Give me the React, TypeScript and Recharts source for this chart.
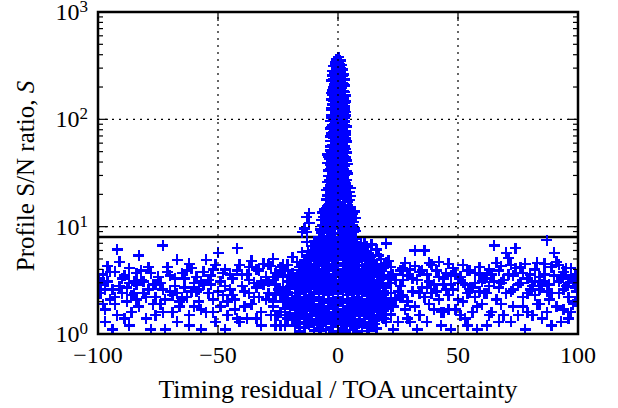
import { ScatterChart, Scatter, XAxis, YAxis, ReferenceLine, ReferenceArea } from 'recharts';

const PLOT_TOP = 12;
const PLOT_RIGHT = 578;
const SERIF = '"Liberation Serif", "Times New Roman", serif';
const BLUE = '#0000ff';

// tick values
const xTicks = [-100, -50, 0, 50, 100];
const yTicks = [1, 2, 3, 4, 5, 6, 7, 8, 9, 10, 20, 30, 40, 50, 60, 70, 80, 90, 100, 200, 300, 400, 500, 600, 700, 800, 900, 1000];
const xGrid = [-50, 0, 50];
const yGrid = [10, 100];
const threshold = 8;

// [x, y] pairs
const spike = [
  0.3, 380, -0.6, 362, 0.9, 352, -1.2, 340, 0.2, 334, 1.5, 322, -1.7, 314, 0.6, 306, -0.8, 298, 2.0, 291,
  -2.1, 283, 0.9, 277, -0.3, 268, 2.3, 262, -2.4, 255, 1.1, 249, -1.0, 242, 2.6, 236, -2.6, 230, 0.3, 224,
  1.8, 218, -1.6, 212, 2.9, 206, -0.5, 201,
  -1.9, 197, 1.6, 195, 0.2, 189, -2.5, 185, 2.4, 182, -0.8, 178, 1.1, 174, -2.2, 170, 3.0, 167, 0.0, 164,
  -1.5, 160, 2.1, 157, -2.7, 153, 0.9, 150, 3.2, 147, -1.0, 144, 1.8, 140, -2.4, 137, 0.3, 134, 2.9, 131,
  -1.7, 128, 1.2, 125, -2.8, 122, 0.5, 120, 3.3, 117, -1.2, 114, 2.2, 111, -2.6, 108, 0.1, 106, 2.8, 103,
  -1.8, 101, 1.0, 99,
  -3.0, 96, 2.6, 95, -0.6, 93, 1.7, 90, -2.3, 88, 3.4, 86, 0.4, 84, -3.1, 82, 2.0, 80, -1.1, 78,
  1.0, 76, -2.7, 74, 3.2, 72, -0.2, 70, 2.3, 68, -1.9, 67, 0.8, 65, -3.0, 63, 3.5, 62, -0.9, 60,
  1.6, 59, -2.4, 57, 2.9, 56, 0.1, 54, -1.5, 53, 2.2, 52, -3.1, 51, 0.7, 50,
  3.6, 49, -2.2, 48, -4.3, 47, 1.4, 46, -0.5, 45, 3.1, 44, -3.5, 43, 0.3, 42, 2.4, 41, -1.6, 40,
  -4.4, 39, 3.8, 38.5, 0.9, 37.5, -2.8, 36.5, 1.9, 35.5, -0.9, 34.5, -4.0, 33.5, 3.4, 32.5, 0.2, 31.7, -2.3, 31,
  2.6, 30.2, -3.9, 29.5, -0.4, 28.7, 1.3, 28, 3.7, 27.3, -1.8, 26.6, -4.5, 26, 0.6, 25.4,
  2.7, 24.8, -3.1, 24.2, -0.7, 23.6, 5.0, 23, 1.5, 22.4, -4.8, 21.9, -1.9, 21.3, 3.5, 20.8, 0.3, 20.3, -3.6, 19.8,
  5.4, 19.3, -0.9, 18.8, 2.2, 18.4, -4.9, 17.9, -2.2, 17.5, 4.1, 17.1, 0.8, 16.6, -3.4, 16.2, 2.9, 15.8, -0.4, 15.4,
  5.2, 15.1, -4.6, 14.8,
  1.7, 14.5, -2.5, 14.2, 6.8, 13.9, -6.5, 13.6, 3.9, 13.3, -0.8, 13, -4.3, 12.7, 2.4, 12.4, 7.2, 12.1, -2.0, 11.8,
  -6.9, 11.5, 4.6, 11.2, 0.2, 10.9, -3.9, 10.6, 6.1, 10.3, 1.9, 10, -5.6, 9.8, -1.2, 9.5, 3.6, 9.3, 7.4, 9.1,
  -3.2, 9, -7.0, 8.8, 0.9, 8.6, 5.3, 8.4,
  -4.5, 14.0, 4.8, 13.5, -6.0, 12.3, 5.5, 11.8, -3.0, 12.0, 2.9, 11.0, -5.0, 10.2, 4.2, 9.7, -7.5, 9.4, 6.5, 8.9,
  -1.5, 8.7, 2.2, 8.3,
];

const spikeB = [
  -0.2, 345, 0.7, 328, -1.0, 318, 1.2, 300, -0.1, 287, -1.5, 270, 1.7, 254, 0.0, 245, -1.9, 238, 1.2, 226,
  -0.9, 219, 2.2, 210, 0.7, 203,
  0.9, 192, -1.2, 187, 2.8, 179, -2.8, 175, 0.6, 171, 1.9, 163, -0.7, 155, -2.0, 148, 2.5, 143, 0.0, 139,
  -0.8, 131, -2.9, 127, 2.6, 123, 1.7, 115, -0.4, 110, 3.0, 108, -2.9, 104, 1.8, 102,
  -1.5, 97, 0.9, 91, 2.9, 89, -2.8, 85, -0.5, 81, 1.3, 79, 3.3, 77, -2.0, 75, -0.6, 73, 1.5, 71,
  -3.0, 69, 3.1, 66, -1.0, 64, 2.0, 61, 0.3, 58, -3.0, 56, 3.0, 53, -2.0, 51,
  1.2, 49.5, -3.2, 47.7, -1.2, 46.5, 2.3, 45.5, -4.0, 44.5, 1.0, 43.5, -2.2, 42.5, 3.4, 41.5, -0.5, 40.5, 1.8, 39.3,
  -3.3, 38, 2.8, 37, -1.5, 35.8, 0.2, 35, -3.0, 34, 2.5, 33, 3.9, 31.3, -1.0, 30.5, 0.9, 29.6, -2.8, 28.4,
  2.3, 27.7, -3.5, 27, 0.0, 26.2, 2.9, 25.8, -2.5, 25.2,
  -1.8, 24.5, 4.0, 24, 0.8, 23.3, -4.0, 22.8, 2.8, 22.1, -0.4, 21.6, 4.7, 21.1, -2.8, 20.6, 1.6, 20, -4.3, 19.5,
  3.2, 19, -1.7, 18.6, 0.3, 18.1, 4.8, 17.7, -3.3, 17.3, 2.0, 16.9, -1.3, 16.4, 4.1, 16, -4.3, 15.6, 1.3, 15.2,
  -2.5, 15,
  5.3, 14.6, -5.6, 14.4, 0.4, 14.1, -1.8, 13.6, 5.9, 13.2, -5.3, 12.9, 1.0, 12.6, -2.6, 12.2, 4.0, 11.9, -0.3, 11.6,
  -5.0, 11.3, 6.5, 11.0, -3.0, 10.8, 2.6, 10.5, -6.3, 10.3, 0.3, 10.1, -2.5, 9.9, 5.2, 9.6, -4.4, 9.4, 6.7, 9.6,
];

const coreA = [
  -8, 7.9, -4.5, 8.1, 0.5, 7.8, 4, 8.0, 7.5, 7.7,
  -10, 7.3, -6.5, 7.2, -2, 7.4, 2.5, 7.1, 6, 7.3, 9.5, 7.0,
  -11, 6.6, -7, 6.5, -3.5, 6.7, 1, 6.4, 5, 6.6, 8.5, 6.3, 12, 6.5,
  -12.5, 5.9, -9, 5.8, -5, 6.0, -1, 5.7, 3, 5.9, 7.5, 5.8, 11, 5.6,
  -13, 5.3, -10, 5.2, -6, 5.4, -2.5, 5.1, 2, 5.3, 6, 5.2, 10, 5.0, 13.5, 5.3,
  -11.5, 4.8, -8, 4.7, -4, 4.9, 0, 4.6, 4.5, 4.8, 8, 4.7, 12, 4.5,
  -14, 4.3, -10, 4.2, -6.5, 4.4, -2, 4.1, 2, 4.3, 6, 4.2, 10.5, 4.0, 14, 4.3,
  -12, 3.9, -8.5, 3.8, -4, 3.9, 0.5, 3.7, 4, 3.9, 8, 3.8, 12, 3.6,
  -15, 3.5, -11, 3.4, -7, 3.5, -3, 3.3, 1, 3.5, 5, 3.4, 9, 3.3, 13, 3.5, 16.5, 3.4,
  -13, 3.1, -9, 3.0, -5, 3.2, -1, 3.0, 3, 3.1, 7, 3.0, 11, 3.2, 15, 2.9,
  -16, 2.8, -11.5, 2.7, -7, 2.8, -3, 2.7, 1.5, 2.8, 5, 2.7, 9, 2.8, 13, 2.6, 17, 2.8,
  -14, 2.5, -10, 2.4, -6, 2.5, -2, 2.4, 2, 2.5, 6.5, 2.4, 10, 2.5, 14, 2.3,
  -17, 2.2, -12, 2.1, -8, 2.2, -4, 2.1, 0, 2.2, 4, 2.1, 8, 2.2, 12, 2.0, 16, 2.2,
  -15, 1.95, -10, 1.9, -6, 1.95, -2, 1.9, 2, 1.95, 6, 1.9, 10, 1.95, 14, 1.85,
  -13, 1.75, -8, 1.7, -4, 1.75, 0, 1.7, 4, 1.75, 8, 1.7, 12, 1.75, 17, 1.7,
  -16, 1.55, -11, 1.5, -6, 1.55, -2, 1.5, 3, 1.55, 7, 1.5, 11, 1.55, 15, 1.5,
  -14, 1.38, -9, 1.35, -4, 1.4, 1, 1.36, 5, 1.38, 9, 1.34, 13, 1.4,
  -12, 1.22, -7, 1.2, -2, 1.24, 3, 1.2, 8, 1.22, 12, 1.18,
  -10, 1.08, -5, 1.1, 0, 1.06, 5, 1.09, 10, 1.07,
];

const coreB = [
  -6, 7.6, -2, 7.7, 2, 7.5, 6, 7.6,
  -8.5, 6.95, -4.5, 7.0, 0, 6.9, 4, 6.95, 8, 6.8, 11, 6.9,
  -9.5, 6.25, -5.5, 6.2, -1.5, 6.3, 3, 6.15, 7, 6.2, 10.5, 6.1,
  -11, 5.6, -7.5, 5.55, -3.5, 5.65, 1, 5.5, 5, 5.6, 9, 5.5, 12.5, 5.6,
  -12, 5.05, -8, 5.0, -4, 5.1, 0, 4.95, 4, 5.05, 8, 4.95, 11.5, 5.0,
  -13, 4.55, -9.5, 4.5, -6, 4.6, -2, 4.45, 2.5, 4.55, 6.5, 4.5, 10, 4.4, 14, 4.6,
  -12, 4.1, -8, 4.05, -4, 4.1, 0, 4.0, 4, 4.1, 8, 4.0, 12, 4.05, 16, 4.0,
  -14, 3.7, -10, 3.65, -5.5, 3.7, -1.5, 3.6, 2.5, 3.7, 6.5, 3.65, 10.5, 3.7, 14.5, 3.6,
  -13, 3.3, -9, 3.25, -5, 3.35, -1, 3.2, 3, 3.3, 7, 3.25, 11, 3.35, 15, 3.2, 18, 3.3,
  -15, 2.95, -11, 2.9, -7, 2.95, -3, 2.9, 1, 2.95, 5, 2.9, 9, 2.95, 13, 2.85, 17, 2.95,
  -18, 2.65, -13.5, 2.6, -9, 2.65, -5, 2.6, -1, 2.65, 3.5, 2.6, 7.5, 2.65, 11.5, 2.55, 15.5, 2.6,
  -16, 2.35, -12, 2.3, -8, 2.35, -4, 2.3, 0, 2.35, 4, 2.3, 8.5, 2.35, 12, 2.25, 16, 2.35, 19, 2.3,
  -19, 2.05, -14, 2.0, -10, 2.05, -6, 2.0, -2, 2.05, 2, 2.0, 6, 2.05, 10, 1.98, 14, 2.05, 18, 2.0,
  -17, 1.85, -12, 1.8, -8, 1.85, -4, 1.82, 0, 1.85, 4, 1.8, 8, 1.85, 12, 1.8, 16, 1.85,
  -15, 1.65, -10, 1.62, -6, 1.66, -2, 1.6, 2, 1.65, 6, 1.62, 10, 1.66, 14, 1.6, 19, 1.65,
  -18, 1.46, -13, 1.44, -8, 1.47, -3, 1.45, 1, 1.46, 5, 1.44, 9, 1.47, 13, 1.44, 17, 1.46,
  -16, 1.3, -11, 1.28, -6, 1.31, -1, 1.29, 4, 1.3, 9, 1.28, 14, 1.3,
  -14, 1.15, -8, 1.14, -3, 1.16, 2, 1.13, 7, 1.15, 12, 1.14, 16, 1.12,
];

const coreC = [
  -3.5, 7.85, 1.5, 7.95, 5.5, 7.85, -7.5, 7.5,
  -5, 7.15, -1, 7.2, 3.5, 7.25, 7.5, 7.1, -9, 7.05,
  -8.5, 6.45, -4.5, 6.5, -0.5, 6.55, 3.5, 6.45, 7, 6.5, 10.5, 6.4,
  -10.5, 6.0, -6.5, 5.95, -2.5, 5.9, 1.5, 6.05, 5.5, 5.95, 9.5, 5.9, 12, 5.85,
  -11.5, 5.35, -7.5, 5.3, -3.5, 5.25, 0.5, 5.35, 4.5, 5.3, 8.5, 5.35, 12, 5.2,
  -14, 4.9, -10, 4.85, -6, 4.8, -2, 4.85, 2, 4.9, 6, 4.75, 10, 4.8, 14, 4.75,
  -12.5, 4.35, -8.5, 4.3, -4.5, 4.25, -0.5, 4.35, 4, 4.25, 8.5, 4.3, 12.5, 4.2, 16, 4.4,
  -16, 3.95, -10, 3.85, -6, 3.95, -2, 3.85, 2, 3.9, 6, 3.8, 10, 3.9, 14, 3.85, 18, 3.9,
  -17, 3.45, -13, 3.5, -9, 3.4, -5, 3.5, -1, 3.45, 3, 3.4, 7, 3.5, 11, 3.4, 15, 3.45, 19, 3.5,
  -18, 3.05, -14, 3.1, -10, 3.0, -6, 3.1, -2, 3.05, 2, 3.0, 6, 3.1, 10, 3.0, 14, 3.05, 17, 3.1, 21, 3.0,
  -20, 2.75, -15, 2.7, -9, 2.75, -5, 2.7, -1, 2.75, 3, 2.7, 7, 2.75, 11, 2.7, 15, 2.75, 19, 2.7,
  -21, 2.45, -18, 2.4, -12, 2.45, -8, 2.4, -4, 2.45, 0, 2.4, 4, 2.45, 8, 2.4, 12, 2.45, 16, 2.45, 20, 2.4,
  -22, 2.15, -16, 2.12, -10, 2.15, -6, 2.1, -2, 2.15, 2, 2.1, 6, 2.15, 10, 2.1, 14, 2.15, 18, 2.12, 22, 2.15,
  -21, 1.9, -17, 1.95, -12, 1.92, -4, 1.95, 0, 1.92, 4, 1.95, 8, 1.92, 12, 1.9, 16, 1.95, 20, 1.9,
  -22, 1.72, -18, 1.7, -10, 1.72, -6, 1.75, -2, 1.72, 2, 1.7, 6, 1.75, 10, 1.72, 15, 1.74, 20, 1.72,
  -20, 1.55, -14, 1.52, -8, 1.55, -4, 1.52, 0, 1.55, 5, 1.52, 9, 1.55, 13, 1.52, 18, 1.55, 22, 1.52,
  -19, 1.38, -12, 1.36, -7, 1.38, -2, 1.37, 3, 1.38, 7, 1.36, 11, 1.38, 16, 1.36, 20, 1.38,
  -17, 1.24, -10, 1.22, -5, 1.25, 0, 1.22, 6, 1.24, 10, 1.22, 15, 1.24,
  -16, 1.05, -7, 1.07, -2, 1.05, 3, 1.06, 8, 1.05, 13, 1.07,
];

const wingLeft = [
  -24, 2.3, -23, 3.4, -22, 1.6, -21, 4.4, -24, 1.2, -20, 2.8, -22, 3.9, -23, 2.0, -19, 5.2, -21, 1.4,
  -20, 3.5, -18, 2.4, -19, 1.9, -17, 4.7, -18, 1.2, -16, 3.1, -17, 2.0, -15, 5.8, -16, 1.6, -14, 4.0,
  -15, 2.6, -13, 12.3, -12, 13.4, -12, 10.8, -15, 8.9, -13, 8.9, -14, 9.6, -13, 7.2, -14, 1.3, -12, 2.2, -13, 3.4,
  -27, 1.8, -26, 2.9, -25, 3.6, -24, 1.6, -23, 2.6, -22, 1.2, -21, 2.3, -20, 1.5, -19, 3.7, -18, 3.0,
  -17, 1.5, -16, 4.2, -26, 1.5, -23, 4.4,
];

const wingRight = [
  24, 2.1, 23, 3.6, 22, 1.5, 21, 4.8, 20, 2.7, 23, 1.1, 22, 3.0, 21, 1.9, 20, 7.0, 19, 4.1,
  18, 2.3, 19, 1.4, 17, 5.4, 18, 3.3, 16, 1.8, 17, 2.7, 15, 4.5, 16, 6.1, 14, 1.2, 15, 2.2,
  13, 3.7, 14, 6.8, 12, 1.6, 13, 5.0,
  25, 2.5, 24, 3.2, 23, 1.8, 22, 2.4, 21, 3.4, 20, 1.3, 19, 2.5, 18, 1.7, 17, 3.8, 25, 1.3,
  22, 4.2, 20, 4.6, 18, 5.0,
];

const noiseLeft = [
  -99, 2.4, -98, 3.6, -97, 1.7, -96, 4.3, -99, 2.9, -95, 2.1, -97, 1.3, -96, 3.1, -98, 1.9,
  -94, 2.6, -93, 3.8, -92, 1.5, -91, 4.7, -93, 2.2, -90, 3.3, -94, 1.1, -91, 2.8, -92, 6.1,
  -89, 3.5, -88, 2.0, -87, 4.1, -86, 1.6, -88, 2.7, -85, 3.1, -87, 1.2, -86, 2.3,
  -84, 2.9, -83, 1.8, -82, 3.9, -81, 2.4, -83, 5.4, -80, 1.4, -82, 3.2, -84, 2.1,
  -79, 2.6, -78, 3.7, -77, 1.9, -76, 2.2, -78, 1.1, -75, 3.4, -77, 2.9, -76, 1.5,
  -74, 3.0, -73, 6.7, -72, 2.1, -71, 3.8, -73, 1.6, -70, 2.5, -72, 1.1, -71, 4.2,
  -69, 2.3, -68, 3.3, -67, 4.9, -66, 1.8, -68, 2.8, -65, 3.7, -67, 1.3, -66, 2.0,
  -64, 2.7, -63, 3.9, -62, 1.5, -61, 4.1, -63, 2.2, -60, 3.0, -62, 1.2, -61, 2.5,
  -59, 3.4, -58, 2.0, -57, 1.7, -56, 3.8, -58, 2.6, -55, 4.9, -57, 1.1, -56, 2.9,
  -54, 2.4, -53, 3.5, -52, 1.6, -51, 4.4, -53, 2.9, -50, 5.7, -52, 2.1, -51, 1.3,
  -49, 3.1, -48, 2.3, -47, 4.0, -46, 1.5, -48, 3.7, -45, 2.6, -47, 1.1, -46, 2.0,
  -44, 3.3, -43, 2.1, -42, 6.3, -41, 4.4, -43, 1.7, -40, 2.8, -42, 3.9, -41, 1.3,
  -39, 2.5, -38, 3.6, -37, 4.2, -36, 1.9, -38, 1.4, -35, 3.0, -37, 2.4, -36, 4.8,
  -34, 2.7, -33, 3.9, -32, 1.6, -31, 4.5, -33, 2.2, -30, 3.4, -32, 1.2, -31, 2.9, -34, 4.0,
  -29, 3.1, -28, 4.3, -27, 2.0, -26, 3.7, -28, 1.5, -25, 2.6, -27, 5.0, -26, 1.2, -29, 2.4,
];

const noiseLeftB = [
  -99.5, 3.3, -97, 2.6, -95, 3.8, -93, 1.9, -90, 2.4, -89, 1.4, -87, 3.0, -85, 2.4, -84, 3.7, -81, 3.1,
  -80, 2.2, -79, 4.2, -76, 2.9, -74, 1.9, -73, 2.6, -70, 3.5, -69, 1.6, -67, 2.4, -65, 2.1, -64, 3.3,
  -62, 4.5, -60, 1.8, -59, 2.5, -57, 3.1, -55, 1.6, -54, 3.2, -52, 4.0, -50, 2.5, -49, 1.8, -47, 2.8,
  -45, 3.6, -44, 2.3, -42, 1.4, -40, 3.6, -39, 1.8, -37, 3.2, -35, 2.2, -34, 1.4, -32, 3.1, -30, 2.1,
  -29, 4.4, -27, 3.2, -26, 2.3, -25, 1.5, -24, 4.2, -23, 2.7, -21, 3.1, -20, 1.9, -19, 2.9, -17, 3.5,
  -16, 2.5, -15, 1.9,
];

const noiseRight = [
  26, 2.8, 27, 4.1, 28, 1.7, 29, 3.5, 27, 2.3, 30, 1.3, 28, 4.6, 29, 2.0, 26, 3.9,
  31, 2.5, 32, 6.0, 33, 3.2, 34, 1.5, 32, 4.3, 35, 2.7, 33, 1.1, 34, 3.8, 36, 6.0,
  36, 2.2, 37, 3.6, 38, 1.9, 39, 4.4, 37, 1.3, 40, 2.9, 38, 3.1, 39, 2.4,
  41, 3.9, 42, 2.1, 43, 1.6, 44, 3.3, 42, 4.7, 45, 2.6, 43, 1.2, 44, 2.9,
  46, 2.3, 47, 3.5, 48, 4.1, 49, 1.7, 47, 1.1, 50, 3.0, 48, 2.6, 46, 4.5,
  51, 3.4, 52, 2.0, 53, 1.4, 54, 3.9, 52, 4.4, 55, 2.5, 53, 2.9, 54, 1.2,
  56, 2.7, 57, 3.7, 58, 1.8, 59, 4.2, 57, 2.2, 60, 3.1, 58, 1.1, 59, 2.5,
  61, 3.3, 62, 2.4, 63, 4.0, 64, 1.6, 62, 1.2, 65, 6.7, 63, 2.8, 64, 3.6,
  66, 2.1, 67, 3.9, 68, 4.3, 69, 1.5, 67, 2.7, 70, 5.7, 68, 1.9, 69, 3.2,
  71, 5.1, 72, 2.5, 73, 3.5, 74, 6.3, 72, 1.3, 75, 2.9, 73, 1.8, 74, 4.1,
  76, 3.0, 77, 2.2, 78, 4.5, 79, 1.6, 77, 3.7, 80, 2.6, 78, 1.1, 79, 3.3,
  81, 2.8, 82, 4.0, 83, 1.9, 84, 3.4, 82, 2.3, 85, 1.4, 83, 4.6, 84, 2.6,
  86, 3.6, 87, 7.5, 88, 2.1, 89, 4.2, 87, 1.6, 90, 5.7, 88, 2.9, 89, 1.2, 86, 3.1,
  91, 4.7, 92, 2.4, 93, 3.3, 94, 1.7, 92, 4.4, 95, 2.8, 93, 1.3, 94, 3.8,
  96, 2.2, 97, 3.5, 98, 1.9, 99, 2.7, 97, 4.1, 96, 1.4, 98, 3.1, 99, 2.0,
];

const noiseRightB = [
  26, 2.2, 27, 3.2, 29, 1.4, 30, 4.0, 31, 3.3, 32, 1.8, 34, 2.4, 35, 3.9, 37, 2.7, 38, 4.6,
  40, 1.7, 41, 2.5, 42, 3.4, 44, 1.6, 45, 3.7, 46, 1.7, 47, 2.9, 49, 3.6, 50, 2.1, 51, 1.5,
  52, 3.0, 54, 2.4, 55, 3.9, 56, 1.6, 57, 3.0, 59, 3.6, 60, 1.9, 61, 2.4, 62, 3.7, 63, 1.5,
  65, 3.1, 66, 4.6, 67, 1.3, 68, 3.0, 70, 2.4, 71, 3.6, 72, 4.4, 73, 2.6, 75, 1.5, 76, 4.2,
  77, 1.8, 79, 2.4, 80, 3.6, 81, 1.5, 82, 3.1, 84, 1.9, 85, 2.9, 86, 4.5, 87, 2.5, 89, 2.4,
  90, 3.5, 91, 1.8, 92, 3.1, 94, 2.6, 95, 4.1, 96, 3.0, 97, 1.6, 99, 3.6, 99.5, 2.5,
];

const pairs = (flat: number[]) => {
  const out: { x: number; y: number }[] = [];
  for (let i = 0; i < flat.length; i += 2) out.push({ x: flat[i], y: flat[i + 1] });
  return out;
};

const points = [
  ...pairs(noiseLeft),
  ...pairs(noiseLeftB),
  ...pairs(noiseRight),
  ...pairs(noiseRightB),
  ...pairs(wingLeft),
  ...pairs(wingRight),
  ...pairs(coreA),
  ...pairs(coreB),
  ...pairs(coreC),
  ...pairs(spike),
  ...pairs(spikeB),
];

const Plus = (props: any) => {
  const { cx, cy } = props;
  return (
    <path
      d={`M${cx - 5.5},${cy}H${cx + 5.5}M${cx},${cy - 5.5}V${cy + 5.5}`}
      stroke={BLUE}
      strokeWidth={2.5}
      shapeRendering="crispEdges"
      fill="none"
    />
  );
};

const XTick = (props: any) => {
  const { x, y, payload } = props;
  const v = payload.value;
  const label = v < 0 ? `\u2212${-v}` : `${v}`;
  return (
    <g>
      <line x1={x} x2={x} y1={y} y2={y - 9} stroke="#000" strokeWidth={1.2} />
      <line x1={x} x2={x} y1={PLOT_TOP} y2={PLOT_TOP + 9} stroke="#000" strokeWidth={1.2} />
      <text x={x} y={y + 29} textAnchor="middle" fontFamily={SERIF} fontSize={24} fill="#000">
        {label}
      </text>
    </g>
  );
};

const YTick = (props: any) => {
  const { x, y, payload } = props;
  const lg = Math.log10(payload.value);
  const exp = Math.round(lg);
  const major = Math.abs(lg - exp) < 1e-6;
  const len = major ? 10 : 5;
  return (
    <g>
      <line x1={x} x2={x + len} y1={y} y2={y} stroke="#000" strokeWidth={1.2} />
      <line x1={PLOT_RIGHT} x2={PLOT_RIGHT - len} y1={y} y2={y} stroke="#000" strokeWidth={1.2} />
      {major && (
        <text x={x - 10} y={y + 8} textAnchor="end" fontFamily={SERIF} fontSize={24} fill="#000">
          10
          <tspan dy={-8} fontSize={17}>
            {exp}
          </tspan>
        </text>
      )}
    </g>
  );
};

export default function App() {
  return (
    <div style={{ position: 'absolute', left: 0, top: 0, width: 618, height: 408, background: '#fff' }}>
      <ScatterChart width={618} height={408} margin={{ top: PLOT_TOP, right: 40, bottom: 24, left: 38 }}>
        <XAxis
          type="number"
          dataKey="x"
          domain={[-100, 100]}
          ticks={xTicks}
          interval={0}
          allowDataOverflow
          axisLine={false}
          tickLine={false}
          tickSize={0}
          tickMargin={0}
          height={50}
          tick={<XTick />}
        />
        <YAxis
          type="number"
          dataKey="y"
          scale="log"
          domain={[1, 1000]}
          ticks={yTicks}
          interval={0}
          allowDataOverflow
          axisLine={false}
          tickLine={false}
          tickSize={0}
          tickMargin={0}
          width={60}
          tick={<YTick />}
        />
        <ReferenceLine y={threshold} stroke="#000" strokeWidth={2.5} zIndex={100} />
        <Scatter data={points} shape={<Plus />} isAnimationActive={false} />
        {xGrid.map((v) => (
          <ReferenceLine key={`gx${v}`} x={v} stroke="#000" strokeWidth={1.2} strokeDasharray="2 5" zIndex={900} />
        ))}
        {yGrid.map((v) => (
          <ReferenceLine key={`gy${v}`} y={v} stroke="#000" strokeWidth={1.2} strokeDasharray="2 5" zIndex={900} />
        ))}
        <ReferenceArea x1={-100} x2={100} y1={1} y2={1000} fill="none" stroke="#000" strokeWidth={2.5} zIndex={950} />
      </ScatterChart>
      <div
        style={{
          position: 'absolute',
          left: 26,
          top: 176,
          transform: 'translate(-50%, -50%) rotate(-90deg)',
          whiteSpace: 'nowrap',
          fontFamily: SERIF,
          fontSize: 25,
          lineHeight: '28px',
        }}
      >
        Profile S/N ratio, <i>S</i>
      </div>
      <div
        style={{
          position: 'absolute',
          left: 338,
          top: 390,
          transform: 'translate(-50%, -50%)',
          whiteSpace: 'nowrap',
          fontFamily: SERIF,
          fontSize: 26,
          lineHeight: '28px',
        }}
      >
        Timing residual / TOA uncertainty
      </div>
    </div>
  );
}
